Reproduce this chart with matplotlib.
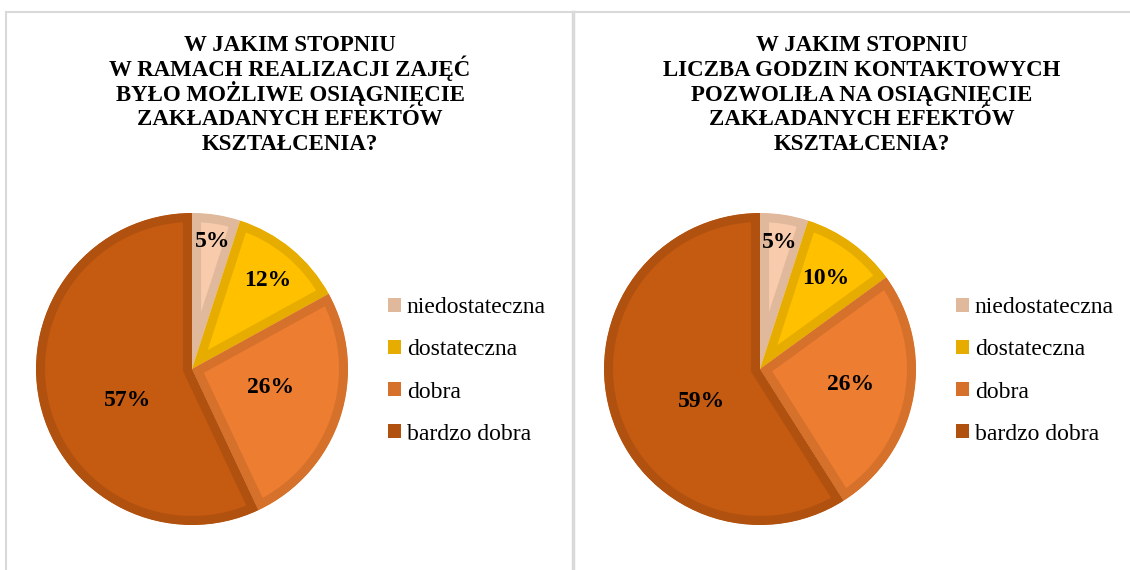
import matplotlib
matplotlib.use("Agg")
import matplotlib.pyplot as plt
from matplotlib.lines import Line2D
from matplotlib.patches import Patch
import numpy as np

plt.rcParams['font.family'] = ['Liberation Serif', 'DejaVu Serif']

categories = ['niedostateczna', 'dostateczna', 'dobra', 'bardzo dobra']
values_left = [5, 12, 26, 57]
values_right = [5, 10, 26, 59]
title_left = ['W JAKIM STOPNIU', 'W RAMACH REALIZACJI ZAJĘĆ', 'BYŁO MOŻLIWE OSIĄGNIĘCIE',
              'ZAKŁADANYCH EFEKTÓW', 'KSZTAŁCENIA?']
title_right = ['W JAKIM STOPNIU', 'LICZBA GODZIN KONTAKTOWYCH', 'POZWOLIŁA NA OSIĄGNIĘCIE',
               'ZAKŁADANYCH EFEKTÓW', 'KSZTAŁCENIA?']

fills = ['#F8CBAD', '#FFC000', '#ED7D31', '#C55A11']
edges = ['#E0B99C', '#E6AD00', '#D6712C', '#B1510F']

W, H = 1130, 570
fig = plt.figure(figsize=(W / 100, H / 100), dpi=100)

# ramki paneli
gray = '#D9D9D9'
fig.add_artist(Line2D([6 / W, 1], [1 - 12 / H, 1 - 12 / H], color=gray, lw=1.5))
fig.add_artist(Line2D([6 / W, 6 / W], [0, 1 - 12 / H], color=gray, lw=1.5))
fig.add_artist(Line2D([573 / W, 573 / W], [0, 1 - 12 / H], color=gray, lw=2.5))

R = 156  # promien kola w pikselach


def draw_panel(cx, values, title, title_x, leg_x, label_r, label_shift):
    cy = 369
    ax = fig.add_axes([(cx - R) / W, (H - cy - R) / H, 2 * R / W, 2 * R / H])
    wedges, _ = ax.pie(values, colors=fills, startangle=90, counterclock=False,
                       radius=1, wedgeprops=dict(linewidth=0))
    for w, ec in zip(wedges, edges):
        w.set_edgecolor(ec)
        w.set_linewidth(13)
        w.set_joinstyle('miter')
        w.set_clip_on(True)
        w.set_clip_path(w)
    # etykiety procentowe
    total = sum(values)
    start = 90.0
    for v, r, sh in zip(values, label_r, label_shift):
        ang = np.deg2rad(start - v / total * 180 + sh)
        start -= v / total * 360
        ax.text(r * np.cos(ang), r * np.sin(ang), f'{v}%', ha='center', va='center',
                fontsize=17, fontweight='bold', color='black')
    ax.set_xlim(-1, 1)
    ax.set_ylim(-1, 1)
    ax.set_aspect('equal')
    ax.axis('off')

    # tytul - kazda linia osobno, stały odstep
    for i, line in enumerate(title):
        fig.text(title_x / W, 1 - (51 + 24.8 * i) / H, line, ha='center', va='baseline',
                 fontsize=16.5, fontweight='bold', color='black')

    handles = [Patch(facecolor=c, edgecolor='none') for c in edges]
    fig.legend(handles, categories, loc='center left',
               bbox_to_anchor=(leg_x / W, 1 - 371 / H), frameon=False,
               fontsize=17, handlelength=0.55, handleheight=0.55,
               handletextpad=0.25, labelspacing=0.89, borderaxespad=0,
               borderpad=0)


draw_panel(192, values_left, title_left, 290, 388,
           [0.83, 0.75, 0.52, 0.46], [0, -1, 4.5, 13])
draw_panel(760, values_right, title_right, 862, 956,
           [0.82, 0.72, 0.59, 0.43], [0, 0, 0.8, 13])

fig.savefig('out.png', dpi=100)
